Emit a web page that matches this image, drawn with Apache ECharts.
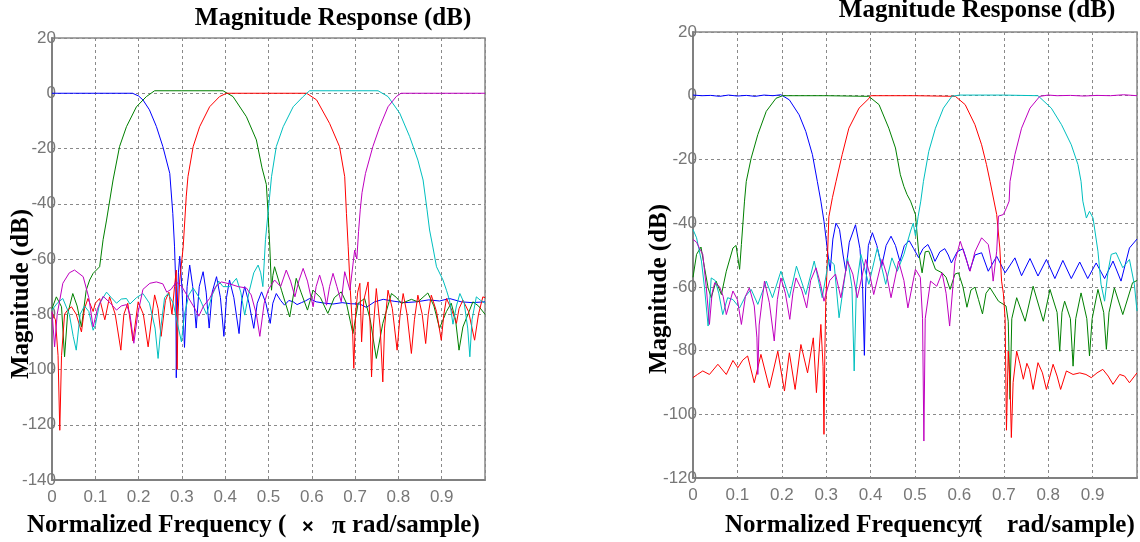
<!DOCTYPE html>
<html><head><meta charset="utf-8">
<script src="https://cdn.jsdelivr.net/npm/echarts@6/dist/echarts.min.js"></script>
<style>html,body{margin:0;padding:0;background:#fff}#c{width:1140px;height:542px}</style>
</head><body><div id="c"></div>
<script>
// ---------- tick labels ----------
const xTicks = [0, 0.1, 0.2, 0.3, 0.4, 0.5, 0.6, 0.7, 0.8, 0.9];
const titleText = "Magnitude Response (dB)";
const yName = "Magnitude (dB)";

// ---------- LEFT chart series: [normalized freq, dB] ----------
const leftBlue = [[0,0],[0.05,0],[0.1,0],[0.15,0],[0.186,0],[0.2,-1],[0.21,-2.4],[0.225,-6],[0.241,-12],[0.256,-19.3],[0.272,-29],[0.279,-43.5],[0.283,-55.6],[0.286,-70],[0.287,-103],[0.289,-80],[0.292,-65],[0.295,-59],[0.3,-70],[0.306,-92],[0.312,-70],[0.318,-62.2],[0.325,-70],[0.333,-85],[0.34,-70],[0.349,-64.6],[0.356,-72],[0.363,-85],[0.37,-72],[0.38,-66.4],[0.389,-74],[0.397,-88],[0.403,-74],[0.41,-67.6],[0.42,-74],[0.432,-87],[0.438,-75],[0.445,-70],[0.455,-76],[0.466,-85.1],[0.474,-76],[0.484,-71.9],[0.494,-76],[0.504,-83.3],[0.51,-76],[0.518,-72.5],[0.528,-75],[0.537,-76.7],[0.547,-75],[0.557,-75.5],[0.566,-76.5],[0.576,-75.8],[0.585,-75.2],[0.595,-74.3],[0.61,-75.5],[0.63,-76],[0.649,-76.3],[0.67,-75.8],[0.69,-76.2],[0.711,-76.3],[0.726,-77.5],[0.745,-75.5],[0.765,-74.6],[0.79,-75.3],[0.815,-75.8],[0.842,-75.5],[0.87,-74.8],[0.895,-75.2],[0.918,-74.3],[0.945,-75.5],[0.97,-75.8],[1.0,-75.5]];
const leftGreen = [[0,-78],[0.01,-73.7],[0.022,-77.3],[0.029,-95.4],[0.036,-80],[0.048,-72.5],[0.058,-77],[0.068,-84.6],[0.079,-71.3],[0.087,-67.6],[0.095,-65.2],[0.11,-62.8],[0.118,-53],[0.126,-45.9],[0.141,-31.4],[0.156,-19.3],[0.172,-12.1],[0.195,-4.9],[0.218,-1.2],[0.237,0.9],[0.3,0.9],[0.395,0.9],[0.418,-1.2],[0.449,-8.5],[0.472,-16.9],[0.485,-27],[0.495,-33],[0.499,-43.5],[0.503,-55.6],[0.507,-71.3],[0.51,-66],[0.514,-62.8],[0.53,-71.3],[0.549,-81],[0.564,-67],[0.575,-72],[0.59,-78.5],[0.603,-71.3],[0.62,-74],[0.637,-79.7],[0.652,-74],[0.668,-71.9],[0.68,-76],[0.695,-87],[0.707,-76],[0.722,-74.3],[0.735,-82],[0.749,-96],[0.764,-83.3],[0.784,-72.5],[0.796,-74],[0.807,-76.1],[0.83,-74.6],[0.845,-75.5],[0.868,-72.3],[0.882,-77],[0.895,-85.1],[0.911,-79],[0.922,-76],[0.932,-82],[0.94,-93],[0.949,-84.6],[0.972,-75.5],[0.985,-77],[1.0,-80]];
const leftRed = [[0,-79.5],[0.008,-82],[0.014,-95],[0.018,-122],[0.022,-95],[0.029,-80],[0.036,-78.5],[0.045,-77.3],[0.056,-80],[0.068,-86.4],[0.075,-78],[0.083,-74.3],[0.095,-79],[0.1,-76],[0.11,-74.3],[0.122,-82],[0.133,-73.7],[0.146,-80],[0.159,-93],[0.166,-80],[0.175,-76],[0.187,-89.7],[0.199,-75.5],[0.211,-80],[0.222,-91.8],[0.237,-73],[0.245,-78],[0.252,-88],[0.262,-75],[0.27,-72],[0.277,-80],[0.283,-70],[0.287,-64],[0.289,-100],[0.291,-80],[0.295,-67.6],[0.303,-55.6],[0.31,-37.5],[0.314,-30.2],[0.326,-19.3],[0.341,-12.1],[0.364,-4.9],[0.387,-1.2],[0.403,0],[0.5,0],[0.588,0],[0.611,-2.4],[0.641,-10.9],[0.664,-19.3],[0.676,-30.2],[0.68,-43.5],[0.684,-55.6],[0.689,-71.3],[0.694,-85],[0.697,-99.6],[0.701,-80],[0.706,-72],[0.711,-68.8],[0.715,-90],[0.72,-75],[0.73,-68.3],[0.735,-85],[0.738,-102.7],[0.742,-85],[0.749,-70.7],[0.758,-85],[0.764,-104.5],[0.768,-85],[0.776,-71.3],[0.786,-78],[0.797,-93],[0.804,-80],[0.811,-72.5],[0.82,-80],[0.83,-94.2],[0.837,-82],[0.845,-73.1],[0.855,-80],[0.863,-90.6],[0.869,-80],[0.876,-73.1],[0.888,-79],[0.899,-89.4],[0.905,-80],[0.911,-74.3],[0.922,-78],[0.934,-83.3],[0.94,-78],[0.949,-74.9],[0.962,-79],[0.976,-89.4],[0.985,-80],[0.995,-73.7],[1.0,-74]];
const leftCyan = [[0,-78.5],[0.012,-76],[0.025,-74.3],[0.04,-80],[0.049,-88],[0.056,-93],[0.065,-80],[0.075,-77],[0.085,-79],[0.095,-85.8],[0.1,-84],[0.11,-76],[0.126,-72],[0.137,-74],[0.149,-76],[0.16,-74.5],[0.172,-74.3],[0.18,-76.3],[0.195,-74],[0.21,-72.5],[0.225,-76],[0.238,-85],[0.245,-96],[0.252,-84],[0.26,-74],[0.268,-72.5],[0.28,-76],[0.292,-85],[0.299,-90],[0.306,-80],[0.316,-73],[0.326,-70.5],[0.34,-74],[0.357,-80],[0.37,-73],[0.385,-68],[0.395,-70],[0.41,-70],[0.426,-67],[0.436,-72],[0.445,-80.3],[0.455,-72],[0.466,-65],[0.476,-62.2],[0.482,-65],[0.487,-70],[0.493,-53],[0.507,-30.2],[0.518,-19.3],[0.534,-12.1],[0.557,-4.9],[0.58,-1.2],[0.595,0.9],[0.753,0.9],[0.776,-1.2],[0.803,-7.2],[0.826,-15.7],[0.845,-24.2],[0.857,-31.4],[0.866,-42],[0.872,-49.5],[0.88,-56],[0.888,-62.8],[0.903,-67.6],[0.911,-71.3],[0.918,-74.9],[0.926,-83.6],[0.934,-77],[0.942,-72.5],[0.952,-76],[0.96,-85],[0.965,-95.4],[0.97,-82],[0.98,-73.7],[0.99,-75],[1.0,-76]];
const leftMagenta = [[0,-79],[0.006,-91.8],[0.012,-80],[0.025,-68.8],[0.04,-65],[0.052,-64],[0.072,-66.4],[0.085,-74],[0.095,-84.6],[0.105,-78],[0.118,-73.5],[0.135,-76],[0.149,-78.5],[0.16,-77],[0.172,-76.5],[0.18,-80],[0.189,-90.5],[0.198,-80],[0.21,-71],[0.226,-68.8],[0.241,-68.3],[0.256,-69],[0.265,-72],[0.275,-71],[0.287,-68.3],[0.3,-70],[0.315,-74],[0.33,-78],[0.339,-80.7],[0.35,-77],[0.364,-74.3],[0.378,-70],[0.391,-68.3],[0.41,-69],[0.43,-70],[0.449,-70.5],[0.46,-73],[0.472,-80],[0.48,-88],[0.49,-76],[0.5,-71],[0.514,-67.6],[0.528,-70],[0.541,-64],[0.551,-68],[0.561,-73.7],[0.57,-68],[0.58,-63.4],[0.59,-68],[0.603,-77.3],[0.61,-70],[0.618,-65.8],[0.626,-70],[0.634,-76.7],[0.641,-70],[0.649,-65.2],[0.658,-70],[0.668,-75.5],[0.676,-64.6],[0.688,-71.3],[0.699,-56.8],[0.704,-60],[0.708,-50],[0.712,-42],[0.716,-36],[0.724,-29],[0.741,-19.3],[0.757,-12.1],[0.776,-4.9],[0.795,-1.2],[0.806,0],[0.9,0],[1.0,0]];

// ---------- RIGHT chart series: [normalized freq, dB] ----------
const rightBlue = [[0,0.2],[0.02,0],[0.04,0.1],[0.06,-0.2],[0.08,0.2],[0.1,-0.1],[0.12,0.1],[0.14,-0.2],[0.16,0.2],[0.18,0],[0.198,0.3],[0.217,-1.3],[0.239,-6],[0.254,-11.2],[0.269,-18.5],[0.28,-26.9],[0.288,-33.1],[0.295,-39.4],[0.303,-48.8],[0.309,-55],[0.315,-45],[0.322,-40],[0.33,-42],[0.338,-50],[0.344,-55],[0.352,-46],[0.366,-40.5],[0.376,-48],[0.382,-60],[0.386,-81.5],[0.389,-60],[0.395,-47],[0.404,-43],[0.414,-47],[0.425,-53.5],[0.435,-47],[0.446,-44.1],[0.456,-47],[0.466,-52],[0.476,-47],[0.487,-45.5],[0.497,-48],[0.508,-50.8],[0.518,-48],[0.529,-46.7],[0.537,-49],[0.545,-52],[0.556,-49],[0.567,-48],[0.575,-50],[0.582,-52.5],[0.595,-49],[0.608,-48],[0.615,-51],[0.623,-55],[0.635,-50],[0.65,-49.3],[0.665,-55.1],[0.684,-50.4],[0.703,-55.6],[0.725,-50.9],[0.74,-56.5],[0.759,-51.1],[0.777,-56.6],[0.796,-51.4],[0.815,-57.4],[0.833,-51.7],[0.852,-57.4],[0.871,-52.2],[0.889,-57.4],[0.908,-52.5],[0.927,-57.4],[0.946,-51.9],[0.964,-58.2],[0.983,-47.8],[1.0,-45]];
const rightGreen = [[0,-57],[0.008,-49.8],[0.018,-47.5],[0.026,-54],[0.034,-60.3],[0.041,-63.4],[0.052,-58.2],[0.064,-62.4],[0.075,-55.1],[0.09,-47.8],[0.097,-47],[0.101,-50.9],[0.105,-54.5],[0.109,-46.7],[0.116,-33.1],[0.12,-26.9],[0.131,-19.6],[0.146,-12.2],[0.165,-4.9],[0.187,-0.8],[0.202,0],[0.3,0],[0.396,-0.2],[0.419,-2.8],[0.441,-10.2],[0.456,-16.4],[0.467,-24.8],[0.475,-28.5],[0.482,-31],[0.49,-33.1],[0.501,-37.3],[0.508,-48.8],[0.516,-55.6],[0.523,-49],[0.531,-48.8],[0.546,-54.5],[0.561,-55.6],[0.57,-57],[0.579,-60.8],[0.59,-56],[0.598,-55.6],[0.608,-60],[0.617,-66.4],[0.626,-61],[0.635,-60.1],[0.643,-64],[0.652,-68.5],[0.66,-62],[0.669,-60.3],[0.688,-64.5],[0.705,-66],[0.71,-70.8],[0.714,-95.3],[0.718,-70],[0.729,-63.4],[0.748,-70.8],[0.766,-59.8],[0.789,-70.8],[0.804,-60.8],[0.82,-68],[0.826,-80.2],[0.831,-68],[0.837,-64.5],[0.85,-70],[0.856,-84.9],[0.862,-70],[0.874,-61.9],[0.887,-70],[0.893,-81.7],[0.899,-70],[0.912,-60.8],[0.925,-68],[0.931,-79.6],[0.937,-68],[0.949,-60.3],[0.968,-68.7],[0.99,-58.7],[1.0,-58]];
const rightRed = [[0,-88.5],[0.01,-87.5],[0.022,-86.4],[0.037,-87.5],[0.056,-84.3],[0.075,-87.5],[0.09,-83.1],[0.101,-85.4],[0.112,-83],[0.123,-81.7],[0.138,-90.1],[0.153,-81.2],[0.172,-91.7],[0.191,-80.2],[0.206,-92.7],[0.217,-80.7],[0.23,-92.2],[0.243,-78.1],[0.258,-87],[0.271,-76],[0.278,-93.2],[0.288,-71.8],[0.293,-85],[0.295,-106.3],[0.297,-80],[0.299,-65],[0.303,-50],[0.306,-38],[0.314,-32],[0.322,-27],[0.336,-18.5],[0.351,-10.2],[0.374,-3.9],[0.396,-0.9],[0.4,0],[0.5,0],[0.591,-0.2],[0.613,-2.8],[0.635,-9.1],[0.65,-15.4],[0.661,-21.6],[0.669,-26.9],[0.684,-37.3],[0.691,-47.8],[0.695,-58.2],[0.699,-62],[0.703,-70],[0.706,-105],[0.71,-80.2],[0.714,-90],[0.717,-107.3],[0.721,-90],[0.729,-80.2],[0.736,-84],[0.744,-89],[0.752,-84],[0.758,-86],[0.766,-92.2],[0.777,-83.8],[0.787,-87],[0.796,-92.2],[0.811,-84.3],[0.82,-88],[0.828,-92.2],[0.841,-86.4],[0.856,-87.5],[0.871,-87],[0.885,-87.5],[0.897,-88.5],[0.91,-87],[0.923,-85.9],[0.935,-88],[0.946,-90.6],[0.961,-87.5],[0.972,-88],[0.983,-90.1],[1.0,-87]];
const rightCyan = [[0,-42],[0.008,-44.6],[0.019,-51.9],[0.026,-60.3],[0.034,-72.3],[0.041,-57.2],[0.05,-58],[0.058,-62],[0.067,-68.7],[0.078,-63.4],[0.09,-64],[0.105,-66.6],[0.118,-63],[0.131,-60.8],[0.146,-65.5],[0.165,-58.2],[0.179,-63.4],[0.198,-55.1],[0.217,-63.4],[0.233,-53.5],[0.254,-62.4],[0.273,-51.9],[0.291,-63.4],[0.306,-51.4],[0.318,-53],[0.329,-69.7],[0.348,-50.9],[0.358,-60],[0.363,-86.4],[0.368,-60],[0.378,-49.8],[0.396,-59.2],[0.415,-47.8],[0.434,-59.2],[0.448,-50.9],[0.46,-55.1],[0.475,-49.8],[0.49,-42.5],[0.496,-40],[0.501,-44],[0.507,-38],[0.513,-33.1],[0.519,-26.9],[0.531,-17.5],[0.546,-10.2],[0.564,-3.9],[0.583,-0.2],[0.6,0.2],[0.7,0.2],[0.777,0],[0.807,-3.9],[0.83,-9.1],[0.852,-15.4],[0.867,-21.6],[0.874,-26.9],[0.878,-33.1],[0.886,-38.4],[0.893,-36.3],[0.901,-38.4],[0.912,-48.8],[0.919,-59.2],[0.927,-64.5],[0.935,-55],[0.942,-49.8],[0.953,-49.3],[0.968,-54],[0.983,-51.4],[0.994,-59.2],[1.0,-67.6]];
const rightMagenta = [[0,-45.1],[0.008,-46],[0.015,-48],[0.022,-49.8],[0.03,-60.3],[0.037,-71.8],[0.043,-62],[0.049,-58.7],[0.06,-60],[0.068,-63],[0.075,-68.7],[0.09,-61.3],[0.1,-64],[0.109,-71.8],[0.118,-63],[0.127,-60.3],[0.138,-66],[0.144,-76],[0.146,-87.5],[0.149,-72],[0.161,-58.2],[0.172,-65],[0.183,-77],[0.19,-64],[0.198,-57.2],[0.208,-62],[0.218,-70.2],[0.225,-62],[0.232,-57.2],[0.245,-61],[0.256,-66.6],[0.265,-58],[0.277,-54],[0.287,-59],[0.295,-64.5],[0.308,-58],[0.321,-56],[0.333,-63.4],[0.348,-51.9],[0.36,-56],[0.37,-63.4],[0.389,-51.4],[0.398,-56],[0.407,-62.4],[0.426,-51.4],[0.436,-56],[0.446,-63.4],[0.463,-51.9],[0.475,-58],[0.484,-66.6],[0.501,-54.5],[0.512,-57],[0.517,-70],[0.52,-108.4],[0.523,-70],[0.535,-58.2],[0.549,-59.8],[0.561,-55.6],[0.57,-62],[0.578,-72.3],[0.59,-52],[0.602,-45.7],[0.612,-50],[0.624,-55.1],[0.635,-49],[0.65,-44.6],[0.665,-46.7],[0.672,-52],[0.676,-58.2],[0.684,-48.8],[0.688,-37.8],[0.699,-37.3],[0.706,-35.2],[0.712,-33.1],[0.714,-26.9],[0.725,-18.5],[0.74,-10.2],[0.759,-3.9],[0.781,-0.2],[0.8,0.2],[0.82,0],[0.85,0.1],[0.88,-0.1],[0.91,0.1],[0.94,0],[0.97,0.3],[1.0,0]];

const colors = { blue: '#0000ff', green: '#008000', red: '#ff0000', cyan: '#00bfbf', magenta: '#bf00bf' };

const chart = echarts.init(document.getElementById('c'), null, { renderer: 'canvas' });
const gridLine = { show: true, lineStyle: { color: '#8a8a8a', width: 1, type: [3, 3] } };
const labelColor = '#777777';
const serif = '"Liberation Serif", "DejaVu Serif", serif';
const sans = '"Liberation Sans", Arial, sans-serif';

function xAx(gi) {
  return { type: 'value', gridIndex: gi, min: 0, max: 1, interval: 0.1,
    axisLine: { show: true, onZero: false, lineStyle: { color: '#808080', width: 2 } },
    axisTick: { show: false }, splitLine: gridLine,
    axisLabel: { color: labelColor, fontSize: 17, fontFamily: sans, margin: 9,
      formatter: v => (v >= 0.999 ? '' : (v === 0 ? '0' : v.toFixed(1))) } };
}
function yAx(gi, min) {
  return { type: 'value', gridIndex: gi, min: min, max: 20, interval: 20,
    axisLine: { show: true, onZero: false, lineStyle: { color: '#808080', width: 2 } },
    axisTick: { show: false }, splitLine: gridLine,
    axisLabel: { color: labelColor, fontSize: 17, fontFamily: sans, margin: -4 } };
}
function ser(name, data, color, gi) {
  return { name: name, type: 'line', xAxisIndex: gi, yAxisIndex: gi, data: data, showSymbol: false, symbol: 'none',
    lineStyle: { color: color, width: 1 }, itemStyle: { color: color }, animation: false, silent: true };
}
function txt(x, y, text, opts) {
  return Object.assign({ type: 'text', x: x, y: y, silent: true,
    style: Object.assign({ text: text, fill: '#000', font: 'bold 25px ' + serif, textAlign: 'left', textVerticalAlign: 'middle' }, opts || {}) });
}

chart.setOption({
  animation: false,
  grid: [
    { left: 52, top: 38, width: 433, height: 442, show: true, borderColor: '#888', borderWidth: 1.5, backgroundColor: '#fff' },
    { left: 693, top: 32, width: 446, height: 446, show: true, borderColor: '#888', borderWidth: 1.5, backgroundColor: '#fff' }
  ],
  xAxis: [xAx(0), xAx(1)],
  yAxis: [yAx(0, -140), yAx(1, -120)],
  series: [
    ser('L1', leftBlue, colors.blue, 0), ser('L2', leftGreen, colors.green, 0), ser('L3', leftRed, colors.red, 0),
    ser('L4', leftCyan, colors.cyan, 0), ser('L5', leftMagenta, colors.magenta, 0),
    ser('R1', rightBlue, colors.blue, 1), ser('R2', rightGreen, colors.green, 1), ser('R3', rightRed, colors.red, 1),
    ser('R4', rightCyan, colors.cyan, 1), ser('R5', rightMagenta, colors.magenta, 1)
  ],
  graphic: [
    txt(333, 19, titleText, { textAlign: 'center' }),
    txt(977, 11, titleText, { textAlign: 'center' }),
    Object.assign(txt(22, 294, yName, { textAlign: 'center' }), { rotation: Math.PI / 2 }),
    Object.assign(txt(660, 289, yName, { textAlign: 'center' }), { rotation: Math.PI / 2 }),
    txt(27, 526, 'Normalized Frequency ('),
    txt(302, 527, '×', { font: 'bold 20px ' + sans }),
    txt(332, 527, 'π'),
    txt(352, 526, 'rad/sample)'),
    txt(725, 526, 'Normalized Frequency'),
    txt(968, 526, 'π'),
    txt(974, 526, '('),
    txt(1007, 526, 'rad/sample)')
  ]
});
</script></body></html>
